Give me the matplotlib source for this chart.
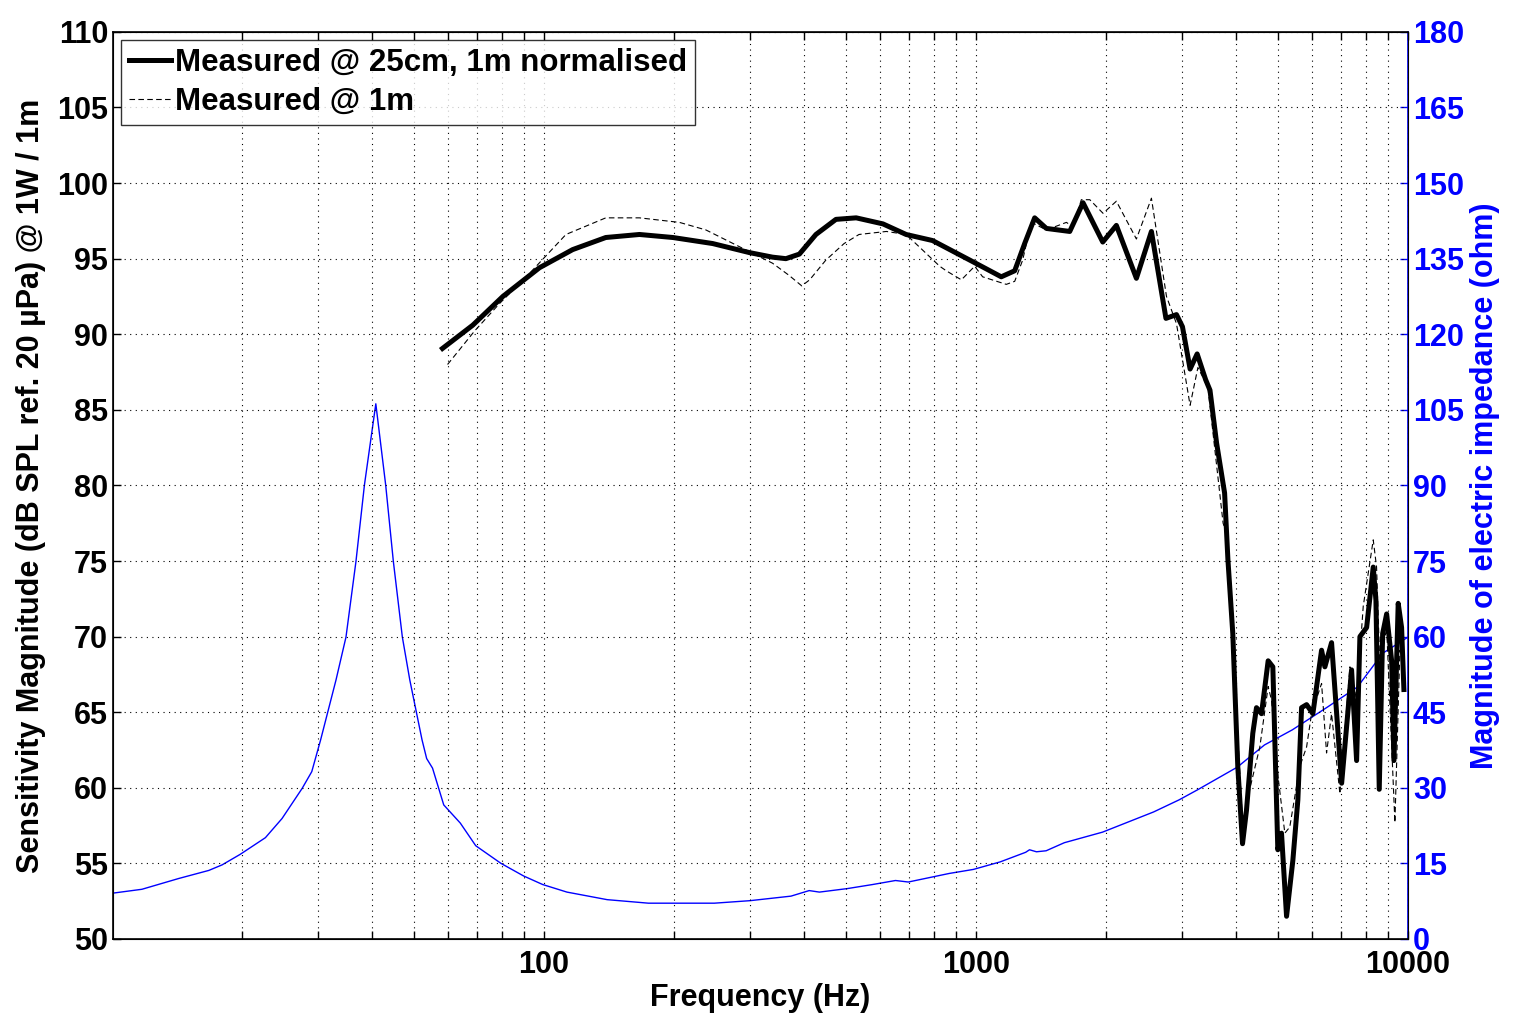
import numpy as np
import matplotlib
matplotlib.use("Agg")
import matplotlib.pyplot as plt
from matplotlib.ticker import FixedLocator, NullFormatter, LogLocator

plt.rcParams['font.family'] = ['Liberation Sans', 'DejaVu Sans']
plt.rcParams['font.weight'] = 'bold'

# Impedance magnitude (ohm) vs frequency (Hz)
imp_freq = [10, 11.73, 14.27, 16.75, 17.98, 19.81, 22.65, 24.75, 27.56, 29.0, 30.4, 33.0,
            34.8, 36.7, 38.4, 40.8, 43.0, 44.8, 47.0, 48.9, 52.2, 53.5, 55.2, 58.6, 64.0,
            69.5, 79.5, 89.7, 99.3, 113, 140, 174.5, 247.9, 300, 373, 411, 434, 504, 576,
            651, 697, 867, 986, 1138, 1303, 1330, 1380, 1453, 1601, 1963, 2576, 2951,
            3257, 4026, 4653, 5398, 6504, 7637, 8738, 10000]
imp_ohm = [9.07, 9.86, 12.0, 13.6, 14.7, 16.8, 20.1, 23.9, 29.9, 33.2, 39.5, 51.4,
           59.9, 74.9, 90.1, 106.2, 90.1, 74.9, 59.9, 51.4, 39.5, 35.8, 33.9, 26.6, 23.0,
           18.5, 15.0, 12.5, 10.8, 9.3, 7.8, 7.1, 7.1, 7.6, 8.5, 9.6, 9.3, 10.0, 10.8,
           11.6, 11.3, 13.0, 13.8, 15.3, 17.2, 17.7, 17.3, 17.5, 19.1, 21.2, 25.2, 27.6,
           29.6, 34.1, 38.5, 41.5, 46.0, 50.0, 56.7, 59.9]

# Measured @ 25cm, 1m normalised
near_freq = [58.2, 68.4, 80.3, 97.6, 116.5, 139, 166.3, 198.7, 245.7, 299, 338, 363,
             390, 426, 474, 528, 609, 689, 793, 983, 1144, 1229, 1296, 1367, 1455, 1648,
             1769, 1965, 2113, 2351, 2547, 2752, 2911, 3005, 3130, 3250, 3400, 3480, 3605,
             3762, 3829, 3930, 4036, 4139, 4227, 4372, 4459, 4580, 4745, 4865, 4996, 5095,
             5234, 5413, 5559, 5670, 5824, 6022, 6308, 6420, 6653, 7020, 7402, 7603, 7738,
             8020, 8308, 8428, 8578, 8735, 8923, 9164, 9277, 9490, 9663, 9783]
near_db = [89.06, 90.6, 92.5, 94.4, 95.6, 96.4, 96.6, 96.4, 96.0, 95.4, 95.1, 95.0,
           95.3, 96.6, 97.6, 97.7, 97.3, 96.6, 96.2, 94.8, 93.8, 94.2, 96.0, 97.7, 97.0,
           96.8, 98.7, 96.1, 97.2, 93.7, 96.8, 91.05, 91.3, 90.5, 87.7, 88.7, 87.0, 86.3,
           82.8, 79.5, 75.1, 70.2, 61.4, 56.3, 58.5, 63.6, 65.3, 64.9, 68.4, 68.0, 55.9,
           57.0, 51.5, 55.2, 59.2, 65.3, 65.5, 64.9, 69.1, 68.0, 69.6, 60.3, 67.8, 61.8,
           70.0, 70.6, 74.6, 72.4, 59.9, 70.2, 71.5, 68.4, 61.8, 72.2, 70.6, 66.5]

# Measured @ 1m
far_freq = [59.8, 69.0, 78.7, 92.4, 112.4, 139, 166.3, 205.8, 237, 283, 338, 369, 395,
            412, 449, 495, 536, 620, 689, 824, 853, 925, 993, 1036, 1175, 1229, 1282,
            1343, 1455, 1619, 1677, 1753, 1834, 1968, 2113, 2351, 2547, 2760, 2911, 3130,
            3263, 3441, 3732, 3797, 4113, 4139, 4227, 4539, 4745, 4831, 5004, 5186, 5324,
            5616, 5824, 5980, 6308, 6478, 6653, 6956, 7337, 7603, 7876, 8308, 8456, 8607,
            8923, 9325, 9576, 9783]
far_db = [88.0, 90.2, 92.0, 94.0, 96.6, 97.7, 97.7, 97.4, 96.9, 95.8, 94.7, 93.9, 93.2,
          93.6, 94.9, 96.0, 96.6, 96.8, 96.6, 94.5, 94.2, 93.6, 94.5, 93.8, 93.3, 93.5,
          94.9, 97.4, 96.9, 97.4, 97.1, 98.9, 98.9, 98.0, 98.8, 96.3, 99.0, 92.5, 90.7,
          85.3, 87.8, 86.5, 77.5, 76.9, 59.2, 57.5, 59.0, 62.7, 66.7, 65.8, 60.7, 57.0,
          57.4, 61.4, 62.7, 64.9, 66.9, 62.3, 64.9, 59.6, 68.0, 65.8, 72.0, 76.4, 74.6,
          68.0, 70.6, 57.7, 69.1, 68.0]

fig = plt.figure(figsize=(15.14, 10.29), dpi=100)
ax = fig.add_axes([0.0746, 0.0875, 0.8554, 0.8815])
ax2 = ax.twinx()
ax.set_zorder(ax2.get_zorder() + 1)
ax.patch.set_visible(False)

ax2.plot(imp_freq, imp_ohm, color='#0000ff', linewidth=1.0)
ax.plot(near_freq, near_db, color='black', linewidth=3.6,
        label='Measured @ 25cm, 1m normalised')
ax.plot(far_freq, far_db, color='black', linewidth=0.8, linestyle=(0, (5, 3)),
        label='Measured @ 1m')

for a in (ax, ax2):
    a.set_xscale('log')
    a.set_xlim(10.05, 10000)

ax.set_ylim(50, 110)
ax.set_yticks(np.arange(50, 111, 5))
ax2.set_ylim(0, 180)
ax2.set_yticks(np.arange(0, 181, 15))

ax.xaxis.set_major_locator(FixedLocator([100, 1000, 10000]))
ax.xaxis.set_minor_locator(LogLocator(base=10, subs=np.arange(2, 10)))
ax.xaxis.set_minor_formatter(NullFormatter())
ax.set_xticklabels(['100', '1000', '10000'])

ax.grid(True, which='major', axis='both', color='black', linestyle=(0, (1, 4)), linewidth=0.8)
ax.grid(True, which='minor', axis='x', color='black', linestyle=(0, (1, 4)), linewidth=0.8)

ax.tick_params(axis='both', which='major', direction='in', length=6, width=1,
               labelsize=22, top=True)
ax.tick_params(axis='x', which='minor', direction='in', length=6, width=1, top=True)
ax.tick_params(axis='x', which='major', pad=8)
ax2.tick_params(axis='y', direction='in', length=6, width=1, colors='#0000ff',
                labelsize=22)

ax2.spines['right'].set_color('#0000ff')
for s in ('left', 'top', 'bottom'):
    ax.spines[s].set_linewidth(1.2)
ax2.spines['right'].set_linewidth(1.2)

ax.set_xlabel('Frequency (Hz)', fontsize=22, fontweight='bold', labelpad=2)
ax.set_ylabel('Sensitivity Magnitude (dB SPL ref. 20 µPa) @ 1W / 1m', fontsize=22,
              fontweight='bold', labelpad=8)
ax2.set_ylabel('Magnitude of electric impedance (ohm)', fontsize=22, fontweight='bold',
               color='#0000ff', labelpad=4)

leg = ax.legend(loc='upper left', prop={'size': 22.5, 'weight': 'bold'}, frameon=True,
                fancybox=False, edgecolor='black', borderaxespad=0.25, handlelength=1.35,
                handletextpad=0.15, borderpad=0.25, labelspacing=0.3)
leg.get_frame().set_linewidth(1.0)

fig.savefig('out.png', dpi=100)
